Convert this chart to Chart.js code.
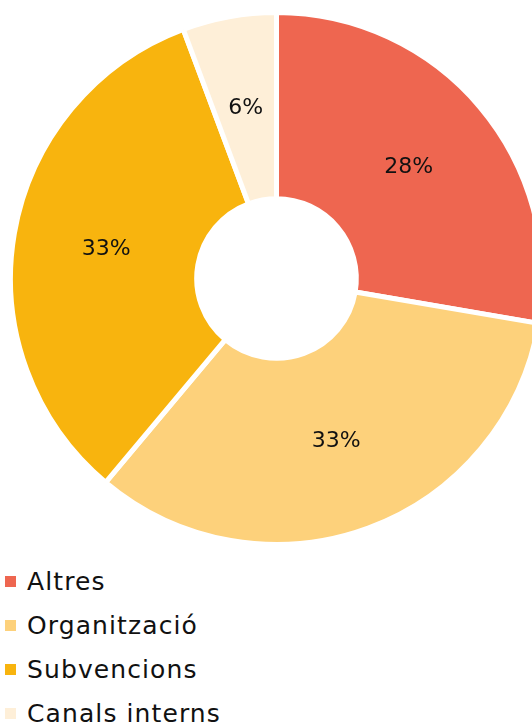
<!DOCTYPE html>
<html>
<head>
    <meta charset="utf-8">
    <title>Distribució</title>
    <script src="https://cdn.jsdelivr.net/npm/chart.js"></script>
    <style>
        html, body { margin: 0; padding: 0; background: #fff; overflow: hidden; }
        #wrap { position: absolute; left: 0; top: 0; width: 553px; height: 557px; }
        #legend { position: absolute; left: 5px; top: 560px; margin: 0; padding: 0; list-style: none;
                  font-family: "DejaVu Sans", sans-serif; font-size: 25px; letter-spacing: 1.1px; color: #111; }
        #legend li { height: 44px; line-height: 44px; white-space: nowrap; }
        #legend span { display: inline-block; width: 11px; height: 11px; margin-right: 11px; vertical-align: 3px; }
    </style>
</head>
<body>
    <div id="wrap"><canvas id="myChart"></canvas></div>
    <ul id="legend"></ul>

    <script>
        // data (percent share)
        const categories = ['Altres', 'Organització', 'Subvencions', 'Canals interns'];
        const shares = [27.7, 33.4, 33.2, 5.7];
        const colors = ['#EE6650', '#FDD17B', '#F8B40E', '#FEEFD8'];

        // draws the "28%" style labels in the middle of each slice
        const sliceLabels = {
            id: 'sliceLabels',
            afterDatasetsDraw(chart) {
                const ctx = chart.ctx;
                const meta = chart.getDatasetMeta(0);
                ctx.save();
                ctx.font = '22px "DejaVu Sans", sans-serif';
                ctx.fillStyle = '#111';
                ctx.textAlign = 'center';
                ctx.textBaseline = 'middle';
                meta.data.forEach((arc, i) => {
                    const p = arc.tooltipPosition();
                    ctx.fillText(Math.round(shares[i]) + '%', p.x, p.y);
                });
                ctx.restore();
            }
        };

        const ctx = document.getElementById('myChart').getContext('2d');
        const myChart = new Chart(ctx, {
            type: 'doughnut',
            data: {
                labels: categories,
                datasets: [{
                    data: shares,
                    backgroundColor: colors,
                    borderColor: '#ffffff',
                    borderWidth: 5,
                    hoverOffset: 0,
                    offset: 0
                }]
            },
            options: {
                responsive: true,
                maintainAspectRatio: false,
                animation: false,
                cutout: '30%',
                layout: { padding: 8 },
                plugins: {
                    legend: { display: false },
                    tooltip: { enabled: false }
                }
            },
            plugins: [sliceLabels]
        });

        // legend as a plain list, built from the same arrays
        const legend = document.getElementById('legend');
        categories.forEach((name, i) => {
            const li = document.createElement('li');
            const box = document.createElement('span');
            box.style.background = colors[i];
            li.appendChild(box);
            li.appendChild(document.createTextNode(name));
            legend.appendChild(li);
        });
    </script>
</body>
</html>
